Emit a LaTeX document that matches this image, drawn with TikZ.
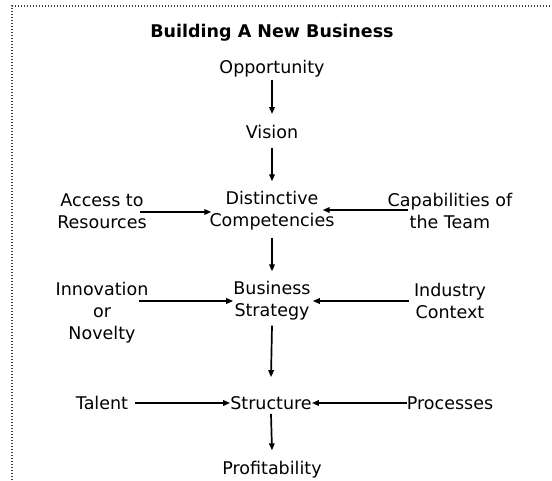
\documentclass[tikz,border=0pt]{standalone}
\usepackage{fontspec}
\setmainfont{DejaVu Sans}
\usetikzlibrary{arrows.meta,calc}
\begin{document}
\begin{tikzpicture}[x=1pt,y=-1pt,
  lbl/.style={inner sep=0pt,align=center,font=\fontsize{17.5}{22}\selectfont},
  ttl/.style={inner sep=0pt,font=\fontsize{17.5}{22}\selectfont\bfseries},
  arr/.style={line width=1.7pt,-{Triangle[length=7pt,width=5.5pt]}},
  frame/.style={line width=1.3pt,color=black!75,dash pattern=on 1.3pt off 1.7pt}]
\useasboundingbox (0,0) rectangle (552,480);
% dotted frame
\draw[frame] (12,480) -- (12,6) -- (552,6);
% labels
\node[ttl] (title) at (272,33) {Building A New Business};
\node[lbl] (opp) at (272,69) {Opportunity};
\node[lbl] (vis) at (272,132) {Vision};
\node[lbl] (acc) at (102,211) {Access to\\Resources};
\node[lbl] (dc) at (272,211) {Distinctive\\Competencies};
\node[lbl] (cap) at (450,211) {Capabilities of\\the Team};
\node[lbl] (inn) at (102,313) {Innovation\\or\\Novelty};
\node[lbl] (bs) at (272,301) {Business\\Strategy};
\node[lbl] (ind) at (450,301) {Industry\\Context};
\node[lbl] (tal) at (102,403) {Talent};
\node[lbl] (st) at (271,403) {Structure};
\node[lbl] (pro) at (450,403) {Processes};
\node[lbl] (prof) at (272,470) {Profitability};
% vertical flow
\draw[arr] ($(opp.south)+(0,2)$) -- ($(vis.north)+(0,-11)$);
\draw[arr] ($(vis.south)+(0,9)$) -- ($(dc.north)+(0,-10)$);
\draw[arr] ($(dc.south)+(0,7)$) -- ($(bs.north)+(0,-10)$);
\draw[arr] ($(bs.south)+(0,5)$) -- ($(st.north)+(0,-19)$);
\draw[arr] ($(st.south)+(0,4)$) -- ($(prof.north)+(0,-11)$);
% side inputs
\draw[arr] ($(acc.east |- dc)+(-7,1)$) -- ($(dc.west)+(2,1)$);
\draw[arr] ($(cap.west |- dc)+(20,-1)$) -- ($(dc.east)+(-12,-1)$);
\draw[arr] ($(inn.east |- bs)+(-10,0)$) -- (bs.west);
\draw[arr] ($(ind.west |- bs)+(-5,0)$) -- ($(bs.east)+(2,0)$);
\draw[arr] ($(tal.east |- st)+(7,0)$) -- (st.west);
\draw[arr] (pro.west |- st) -- (st.east);
\end{tikzpicture}
\end{document}
